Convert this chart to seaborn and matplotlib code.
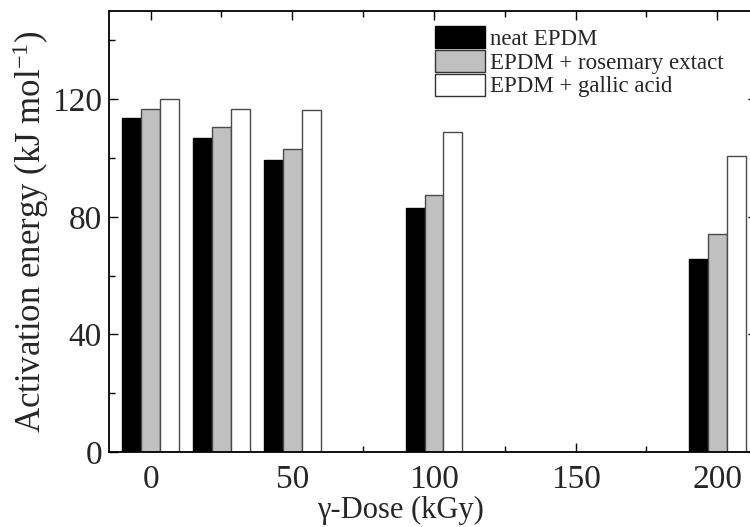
import matplotlib
matplotlib.use("Agg")
import matplotlib.pyplot as plt
from matplotlib.patches import Patch
from matplotlib.ticker import MultipleLocator
import seaborn as sns
import pandas as pd

doses = [0, 25, 50, 100, 200]
series = ["neat EPDM", "EPDM + rosemary extact", "EPDM + gallic acid"]
neat = [113.5, 106.9, 99.3, 83.1, 65.7]
rosemary = [116.8, 110.6, 102.9, 87.5, 74.3]
gallic = [119.9, 116.8, 116.2, 108.8, 100.8]
colors = ["#000000", "#c0c0c0", "#ffffff"]
edges = ["#000000", "#4a4a4a", "#4a4a4a"]

rows = []
for name, vals in zip(series, [neat, rosemary, gallic]):
    for d, v in zip(doses, vals):
        rows.append({"dose": d, "series": name, "E": v})
df = pd.DataFrame(rows)

sns.set_style("ticks")
plt.rcParams["font.family"] = ["Liberation Serif", "DejaVu Serif"]
plt.rcParams["mathtext.fontset"] = "custom"
plt.rcParams["mathtext.rm"] = "Liberation Serif"
plt.rcParams["mathtext.it"] = "Liberation Serif:italic"
plt.rcParams["mathtext.default"] = "regular"

fig = plt.figure(figsize=(7.5, 5.27), dpi=100)
x0, x1 = 109, 757
ax = fig.add_axes([x0 / 750, 1 - 452 / 527, (x1 - x0) / 750, (452 - 11) / 527])

sns.barplot(data=df, x="dose", y="E", hue="series", hue_order=series,
            native_scale=True, palette=colors, errorbar=None,
            linewidth=1.0, edgecolor="#4a4a4a", legend=False, ax=ax)

for cont, ec in zip(ax.containers, edges):
    for p in cont.patches:
        p.set_edgecolor(ec)

ax.set_xlim(-14.7, -14.7 + (x1 - x0) / 2.833)
ax.set_ylim(0, 150)
ax.xaxis.set_major_locator(MultipleLocator(50))
ax.xaxis.set_minor_locator(MultipleLocator(25))
ax.yaxis.set_major_locator(MultipleLocator(40))
ax.yaxis.set_minor_locator(MultipleLocator(20))
ax.tick_params(which="both", direction="in", top=True, right=True,
               width=1.0, color="black")
ax.tick_params(which="major", length=6.5, labelsize=24)
ax.tick_params(which="minor", length=4.5)
ax.tick_params(axis="x", which="major", pad=9)
ax.tick_params(axis="y", which="major", pad=5)
for s in ax.spines.values():
    s.set_linewidth(1.3)
    s.set_color("black")

ax.set_xlabel("γ-Dose (kGy)", fontsize=22, labelpad=0)
ax.xaxis.set_label_coords((401 - x0) / (x1 - x0), -0.099)
ax.set_ylabel("Activation energy (kJ mol$^{-1}$)", fontsize=25, labelpad=1)

handles = [Patch(facecolor=c, edgecolor=("#000000" if i == 0 else "#333333"), linewidth=1.0)
           for i, c in enumerate(colors)]
fig.legend(handles, series, loc="upper left", bbox_to_anchor=(435 / 750, 1 - 26 / 527),
           frameon=False, fontsize=16.5, handlelength=2.2, handleheight=1.1,
           labelspacing=0.0, handletextpad=0.2, borderpad=0, borderaxespad=0)

fig.savefig("out.png", dpi=100)
